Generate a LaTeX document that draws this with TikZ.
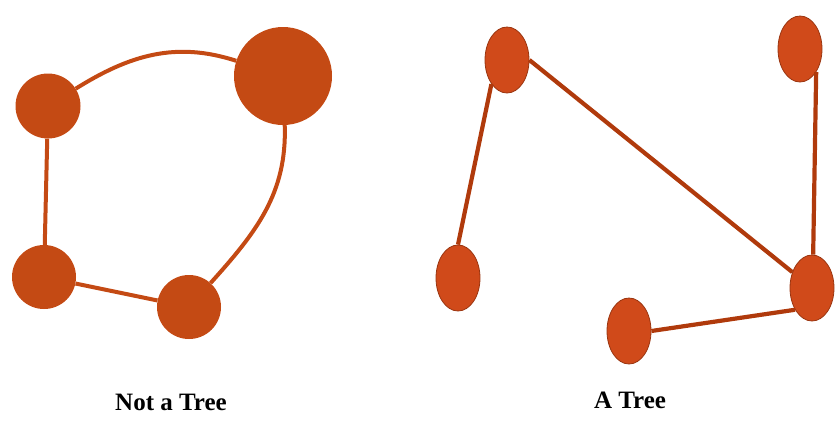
\documentclass[tikz,border=0pt]{standalone}
\usepackage{fontspec}
\setmainfont{Liberation Serif}
\usetikzlibrary{shapes.geometric}
\definecolor{lnode}{HTML}{C44A14}
\definecolor{rnode}{HTML}{D04A1A}
\definecolor{rborder}{HTML}{9A3510}
\definecolor{redge}{HTML}{B03A0C}
\begin{document}
\begin{tikzpicture}[x=1pt,y=-1pt,
  lvertex/.style={circle,fill=lnode,inner sep=0pt},
  ledge/.style={draw=lnode,line width=4pt},
  rvertex/.style={ellipse,fill=rnode,draw=rborder,line width=0.8pt,minimum width=44pt,minimum height=66pt,inner sep=0pt},
  redge/.style={draw=redge,line width=4.2pt},
  caption/.style={font=\bfseries\fontsize{25}{28}\selectfont,inner sep=0pt}]
\useasboundingbox (0,0) rectangle (838,424);
% left graph
\node[lvertex,minimum size=65pt] (A) at (48,106) {};
\node[lvertex,minimum size=98pt] (B) at (283,76) {};
\node[lvertex,minimum size=64pt] (C) at (44,277) {};
\node[lvertex,minimum size=64pt] (D) at (189,307) {};
\path[ledge] (A) to[out=32,in=162] (B);
\path[ledge] (D) to[out=48,in=-88] (B);
\path[ledge] (A) -- (C);
\path[ledge] (C) -- (D);
% right graph
\node[rvertex] (E) at (507,60) {};
\node[rvertex] (F) at (800,49) {};
\node[rvertex] (G) at (458,278) {};
\node[rvertex] (H) at (812,288) {};
\node[rvertex] (I) at (629,331) {};
\path[redge] (E.237) -- (G.north);
\path[redge] (E.east) -- (H);
\path[redge] (F.-55) -- (H.88);
\path[redge] (I.east) -- (H.232);
% captions
\node[caption] (cap1) at (171,402) {Not a Tree};
\node[caption] (cap2) at (630,400) {A Tree};
\end{tikzpicture}
\end{document}
